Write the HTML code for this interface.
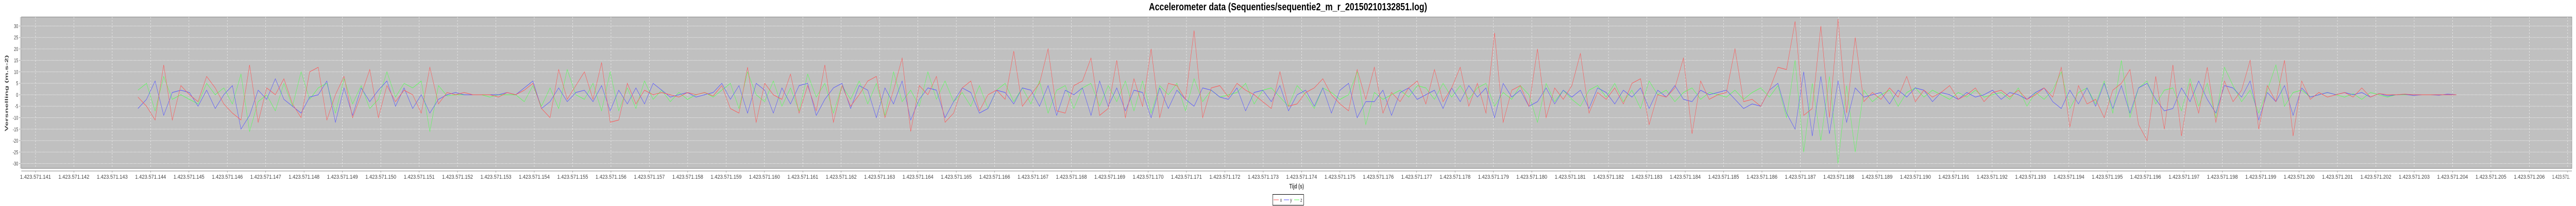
<!DOCTYPE html>
<html><head><meta charset="utf-8"><style>
html,body{margin:0;padding:0;background:#fff;width:100%;height:100%;overflow:hidden;}
svg{display:block;position:fixed;left:0;top:0;width:100vw;height:100vh;font-family:"Liberation Sans","DejaVu Sans",sans-serif;}
</style></head><body>
<svg id="chart" viewBox="0 0 7500 400" preserveAspectRatio="none" xmlns="http://www.w3.org/2000/svg">
<rect x="0" y="0" width="7500" height="400" fill="#ffffff"/>
<text x="3750" y="20" text-anchor="middle" font-size="20" font-weight="bold" fill="#000" textLength="810" lengthAdjust="spacingAndGlyphs">Accelerometer data (Sequenties/sequentie2_m_r_20150210132851.log)</text>
<rect x="62" y="33" width="7426" height="294" fill="#c0c0c0" stroke="#808080" stroke-width="1"/>
<g id="grid"></g>
<g id="series"></g>
<line x1="62" y1="332" x2="7488" y2="332" stroke="#808080" stroke-width="1"/>
<line x1="59" y1="33" x2="59" y2="327" stroke="#808080" stroke-width="1"/>
<g id="xticks"></g>
<g id="yticks"></g>
<text x="3775" y="366" text-anchor="middle" font-size="13" font-weight="bold" fill="#444">Tijd (s)</text>
<text x="0" y="0" transform="translate(23,181) rotate(-90)" text-anchor="middle" font-size="13" font-weight="bold" fill="#444" textLength="148" lengthAdjust="spacingAndGlyphs">Versnelling (m.s-2)</text>
<g>
<rect x="3705.5" y="377.5" width="90" height="21" fill="#fff" stroke="#000" stroke-width="1"/>
<line x1="3708" y1="388" x2="3723" y2="388" stroke="#ff5555" stroke-width="1"/>
<text x="3727" y="392" font-size="11" fill="#444">x</text>
<line x1="3738" y1="388" x2="3753" y2="388" stroke="#5555ff" stroke-width="1"/>
<text x="3756" y="392" font-size="11" fill="#444">y</text>
<line x1="3768" y1="388" x2="3783" y2="388" stroke="#55ff55" stroke-width="1"/>
<text x="3786" y="392" font-size="11" fill="#444">z</text>
</g>
</svg>
<script>
const xValues = [-1,-5,-11,13,-11,4,0,-3,8,3,-4,-8,-11,13,-12,3,0,7,-4,-10,10,
12,-11,0,8,-10,0,11,-10,4,-3,2,0,-8,12,-4,
1,0,1,0,0,0,-1,1,0,
2,5,-6,-10,11,-2,4,10,-2,14,-12,-11,5,-4,2,0,
1,0,-1,1,0,1,-0.5,4,
-6,-8,12,-12,5,0,-2,9,-8,4,-7,13,-12,4,-5,0,6,8,-10,2,16,-16,4,0,8,-12,-8,3,6,-7,0,2,-2,19,-5,0,5,20,-7,-8,4,6,16,-9,-6,15,-10,7,
-5,20,-10,5,4,-2,28,-10,3,4,-1,5,2,0,-3,-6,10,-5,-4,1,3,7,0,-4,-7,11,-2,12,-8,1,-3,3,6,-4,11,-3,
3,12,-5,5,-8,27,-12,2,4,-5,20,-10,3,-2,4,18,-8,1,-2,3,-4,5,7,-13,0,-1,3,16,
-17,6,-2,0,1,20,-3,-2,-5,2,12,11,
32,-9,-6,30,-10,33,-8,25,-3,1,-2,3,-1,8,-3,2,-1,1,4,-2,
0,3,-3,1,2,-1,2,-2,0,3,-1,12,-14,4,-4,-2,-10,2,5,11,-13,-20,8,-15,
13,-18,5,-8,12,-12,6,-3,2,15,-15,4,-3,15,-18,6,-2,1,-1,0,
1,-1,3,-1,0.5,0,0,0.3,0,0,0,0,0,0];
const yValues = [-6,-2,6,-9,1,2,1,-5,2,-6,0,4,-15,-9,2,-2,7,-2,-5,-8,-1,
0,6,-12,3,-9,3,-3,2,6,-5,3,-6,0,-8,-2,
0,1,0,0,0,0,0,1,0,
3,6,-6,-3,3,-3,1,2,-3,4,-7,2,-4,3,-4,5,
2,-1,0,1,-1,0,1,5,
-2,4,-8,5,2,-8,3,-4,4,5,-9,-2,3,5,-6,4,2,-10,3,-4,6,-11,-2,3,2,-10,-3,3,1,-8,-6,2,1,-4,3,2,-5,4,-9,2,0,3,-9,6,-5,3,-7,2,
1,-10,3,-6,2,-2,-5,3,2,-1,-2,3,-7,1,2,-3,4,-7,0,2,-5,3,-8,2,5,-10,-3,-3,2,-9,1,3,-2,0,2,-6,
3,-3,4,-1,3,-10,5,-1,2,-5,-3,3,-4,2,-1,2,-6,3,1,-4,2,-1,3,-6,2,-1,4,-2,
-3,2,0,1,2,-2,-6,-4,-5,2,5,-8,
-15,10,-18,8,-17,6,-12,3,-1,0,1,-4,2,-1,3,2,-3,1,0,-2,
1,-1,0,2,-2,1,0,-2,1,3,-3,-6,2,-4,3,-5,5,-6,4,-8,3,5,-2,-7,
-6,3,-3,6,-2,-8,4,3,-1,6,-11,1,-3,4,-9,3,-1,0,1,0,
1,0,1,-1,0.5,-0.5,0,0.2,-0.3,0,0,-0.2,0.3,0];
const zValues = [2,5,-7,8,-2,0,-2,-4,5,0,3,-4,9,-16,-3,0,-7,5,-5,10,-2,
3,5,-8,7,-4,4,-6,-2,10,-1,5,3,6,-16,4,
-0.5,0,0,0,0,-1,0,0,0,
-3,4,-5,3,-6,11,0,-2,5,-7,10,-7,3,-6,6,-2,
2,-3,1,-2,0,1,-1,2,
5,-6,10,0,-3,6,-5,3,-7,9,-1,5,-8,4,-2,6,-4,5,-9,10,-3,2,-5,10,-2,6,-3,1,-5,4,-6,2,5,-3,3,-4,6,-8,2,4,-6,3,5,-5,4,-3,6,-7,
6,-8,4,0,5,-7,7,-3,2,-1,0,1,5,-4,2,3,-1,-5,4,0,-6,3,1,-2,0,10,-13,1,-2,0,2,-1,4,3,-2,5,
-1,4,-2,3,5,-5,1,-2,4,0,-12,5,-3,2,-2,-5,2,4,-1,5,-3,2,-6,6,0,2,-3,1,
3,-2,1,0,-1,2,-2,1,3,-1,4,-10,
15,-25,5,-20,8,-30,4,-25,2,-3,0,2,-5,1,3,-1,2,0,-2,1,
-1,2,-1,0,1,-2,3,-5,1,-2,2,10,-6,1,3,-4,6,-8,15,-10,3,6,-4,2,
3,-7,7,-5,5,-10,12,4,-3,2,-8,2,13,-5,1,2,-1,0,1,0,
-1,0.5,-2,1,0,-1,0,0,0,0,0,0,0,0];
const timeStartOffset = 3.04;
const timeStep = 0.2238;
const xTickValues = [141,142,143,144,145,146,147,148,149,150,151,152,153,154,155,156,157,158,159,160,161,162,163,164,165,166,167,168,169,170,171,172,173,174,175,176,177,178,179,180,181,182,183,184,185,186,187,188,189,190,191,192,193,194,195,196,197,198,199,200,201,202,203,204,205,206,207];
const yTickValues = [-30,-25,-20,-15,-10,-5,0,5,10,15,20,25,30];

const NS = "http://www.w3.org/2000/svg";
const X0 = 62, X1 = 7488, Y0 = 33, Y1 = 327;
const tMin = 140.63, tMax = 207.11;
const vMin = -32.13, vMax = 33.93;
function sx(t){ return X0 + (t - tMin) * (X1 - X0) / (tMax - tMin); }
function sy(v){ return Y1 - (v - vMin) * (Y1 - Y0) / (vMax - vMin); }
function mk(tag, attrs, parent){
  const e = document.createElementNS(NS, tag);
  for (const k in attrs) e.setAttribute(k, attrs[k]);
  parent.appendChild(e); return e;
}
const grid = document.getElementById('grid');
const xt = document.getElementById('xticks');
const yt = document.getElementById('yticks');
xTickValues.forEach(v => {
  const x = sx(v);
  const g = mk('line', {x1:x, y1:Y0, x2:x, y2:Y1, stroke:'#ffffff', 'stroke-width':1, 'stroke-dasharray':'3,3', opacity:0.8}, grid);
  
  
  const tk = mk('line', {x1:x, y1:332, x2:x, y2:335, stroke:'#808080'}, xt);
  
  
  if (x + 46 <= 7500) {
    const lb = mk('text', {x:x, y:347, 'text-anchor':'middle', 'font-size':11, fill:'#444', textLength:90, lengthAdjust:'spacingAndGlyphs'}, xt);
    lb.textContent = '1.423.571.' + v;
    
    
  } else {
    const lb = mk('text', {x:x - 45, y:347, 'text-anchor':'start', 'font-size':11, fill:'#444'}, xt);
    lb.textContent = '1.423.571.';
    
    
  }
});
yTickValues.forEach(v => {
  const y = sy(v);
  const g = mk('line', {x1:X0, y1:y, x2:X1, y2:y, stroke:'#ffffff', 'stroke-width':1, 'stroke-dasharray':'2,2', opacity:0.8}, grid);
  
  
  const tk = mk('line', {x1:56, y1:y, x2:59, y2:y, stroke:'#808080'}, yt);
  
  
  const lb = mk('text', {x:53, y:y + 4, 'text-anchor':'end', 'font-size':11, fill:'#444'}, yt);
  lb.textContent = String(v);
  
  
});
const series = document.getElementById('series');
[['z', zValues, '#55ff55'], ['y', yValues, '#5555ff'], ['x', xValues, '#ff5555']].forEach(([name, vals, col]) => {
  const pts = vals.map((v, i) => sx(tMin + timeStartOffset + i * timeStep).toFixed(1) + ',' + sy(v).toFixed(1)).join(' ');
  const pl = mk('polyline', {points:pts, fill:'none', stroke:col, 'stroke-width':1}, series);
  
  
});
</script>
</body></html>
